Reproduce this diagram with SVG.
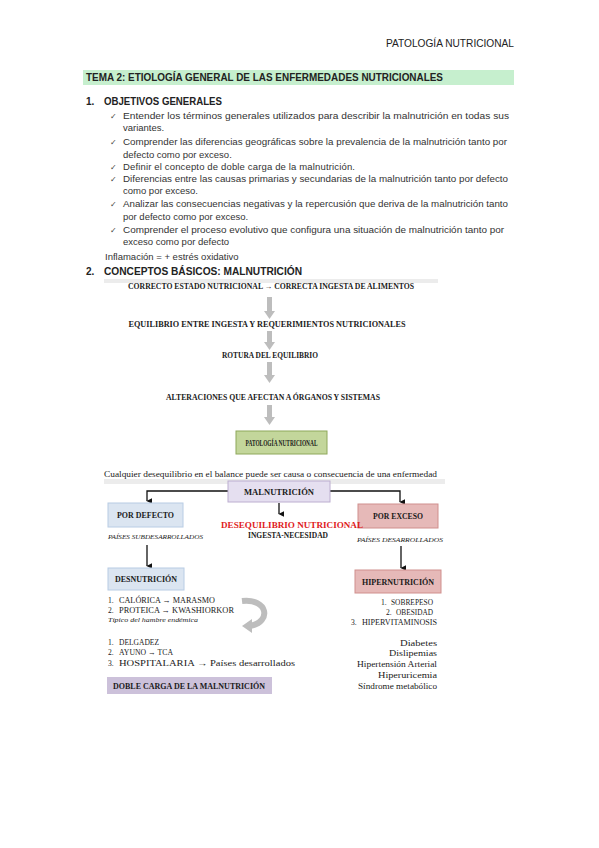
<svg xmlns="http://www.w3.org/2000/svg" width="599" height="848" viewBox="0 0 599 848">
<defs>
<style>
.s{font-family:"Liberation Sans",Arial,sans-serif;fill:#222;}
.b{font-weight:bold;}
.t{font-family:"Liberation Sans",Arial,sans-serif;font-size:9.5px;fill:#333;}
.ck{font-family:"DejaVu Sans",sans-serif;font-size:8px;fill:#444;}
.sf{font-family:"Liberation Serif","Times New Roman",serif;fill:#1a1a1a;}
.ln{fill:none;stroke:#111;stroke-width:1.3;}
.ga{fill:#bdbdbd;}
</style>
<marker id="ah" viewBox="0 0 10 10" refX="5" refY="9" markerWidth="6" markerHeight="6" orient="auto-start-reverse" markerUnits="userSpaceOnUse">
<path d="M0,0 L10,0 L5,10 Z" fill="#111"/>
</marker>
</defs>
<rect width="599" height="848" fill="#fff"/>

<g id="header">
<text class="s" x="514" y="47" font-size="10.5" text-anchor="end" textLength="128" lengthAdjust="spacingAndGlyphs" fill="#333">PATOLOGÍA NUTRICIONAL</text>
</g>

<g id="title">
<rect x="83" y="70" width="431" height="15" fill="#c6efce"/>
<text class="s b" x="86" y="81" font-size="10" textLength="357" lengthAdjust="spacingAndGlyphs">TEMA 2: ETIOLOGÍA GENERAL DE LAS ENFERMEDADES NUTRICIONALES</text>
</g>

<g id="objetivos">
<text class="s b" x="86" y="105" font-size="10">1.</text>
<text class="s b" x="104" y="105" font-size="10" textLength="118" lengthAdjust="spacingAndGlyphs">OBJETIVOS GENERALES</text>
<text class="ck" x="110" y="119">✓</text>
<text class="t" x="123" y="119" textLength="386" lengthAdjust="spacingAndGlyphs">Entender los términos generales utilizados para describir la malnutrición en todas sus</text>
<text class="t" x="123" y="131">variantes.</text>
<text class="ck" x="110" y="145">✓</text>
<text class="t" x="123" y="145" textLength="384" lengthAdjust="spacingAndGlyphs">Comprender las diferencias geográficas sobre la prevalencia de la malnutrición tanto por</text>
<text class="t" x="123" y="158">defecto como por exceso.</text>
<text class="ck" x="110" y="170">✓</text>
<text class="t" x="123" y="170" textLength="232" lengthAdjust="spacing">Definir el concepto de doble carga de la malnutrición.</text>
<text class="ck" x="110" y="182">✓</text>
<text class="t" x="123" y="182" textLength="385" lengthAdjust="spacingAndGlyphs">Diferencias entre las causas primarias y secundarias de la malnutrición tanto por defecto</text>
<text class="t" x="123" y="194">como por exceso.</text>
<text class="ck" x="110" y="207">✓</text>
<text class="t" x="123" y="207" textLength="385" lengthAdjust="spacingAndGlyphs">Analizar las consecuencias negativas y la repercusión que deriva de la malnutrición tanto</text>
<text class="t" x="123" y="220">por defecto como por exceso.</text>
<text class="ck" x="110" y="233">✓</text>
<text class="t" x="123" y="233" textLength="381" lengthAdjust="spacingAndGlyphs">Comprender el proceso evolutivo que configura una situación de malnutrición tanto por</text>
<text class="t" x="123" y="245">exceso como por defecto</text>
<text class="t" x="105" y="260">Inflamación = + estrés oxidativo</text>
<text class="s b" x="86" y="275" font-size="10">2.</text>
<text class="s b" x="104" y="275" font-size="10" textLength="198" lengthAdjust="spacingAndGlyphs">CONCEPTOS BÁSICOS: MALNUTRICIÓN</text>
</g>

<g id="diagram1">
<rect x="104" y="279" width="334" height="200" fill="#fff"/>
<rect x="104" y="279" width="334" height="4" fill="#ececec"/>
<g id="n-correcto"><text class="sf b" x="271" y="289" font-size="8.2" text-anchor="middle" textLength="286" lengthAdjust="spacingAndGlyphs">CORRECTO ESTADO NUTRICIONAL → CORRECTA INGESTA DE ALIMENTOS</text></g>
<g id="n-equilibrio"><text class="sf b" x="267" y="327" font-size="8.2" text-anchor="middle" textLength="277" lengthAdjust="spacingAndGlyphs">EQUILIBRIO ENTRE INGESTA Y REQUERIMIENTOS NUTRICIONALES</text></g>
<g id="n-rotura"><text class="sf b" x="270" y="358" font-size="8.2" text-anchor="middle" textLength="96" lengthAdjust="spacingAndGlyphs">ROTURA DEL EQUILIBRIO</text></g>
<g id="n-alteraciones"><text class="sf b" x="273" y="400" font-size="8.2" text-anchor="middle" textLength="214" lengthAdjust="spacingAndGlyphs">ALTERACIONES QUE AFECTAN A ÓRGANOS Y SISTEMAS</text></g>
<g id="n-patologia">
<rect x="236" y="431" width="91" height="23" fill="#c3d69b" stroke="#8ea85a" stroke-width="1"/>
<text class="sf b" x="281.5" y="445.5" font-size="8" text-anchor="middle" textLength="72" lengthAdjust="spacingAndGlyphs">PATOLOGÍA NUTRICIONAL</text>
</g>
<g id="n-cualquier"><text class="sf" x="104" y="477" font-size="8.4" textLength="333" lengthAdjust="spacingAndGlyphs">Cualquier desequilibrio en el balance puede ser causa o consecuencia de una enfermedad</text></g>
<g id="connectors1">
<polygon class="ga" points="267,297 272,297 272,311 275,311 269.5,319 264,311 267,311"/>
<polygon class="ga" points="267,331 272,331 272,342 275,342 269.5,350 264,342 267,342"/>
<polygon class="ga" points="267,362 272,362 272,375 275,375 269.5,383 264,375 267,375"/>
<polygon class="ga" points="267,405 272,405 272,417 275,417 269.5,425 264,417 267,417"/>
</g>
</g>

<g id="diagram2">
<rect x="104" y="479" width="341" height="218" fill="#fff"/>
<rect x="104" y="479" width="341" height="5" fill="#ececec"/>
<g id="connectors2">
<path class="ln" d="M228,491 H147 V501" marker-end="url(#ah)"/>
<path class="ln" d="M330,491 H400 V502" marker-end="url(#ah)"/>
<path class="ln" d="M279,503 V514" marker-end="url(#ah)"/>
<path class="ln" d="M147,545 V566" marker-end="url(#ah)"/>
<path class="ln" d="M401,546 V568" marker-end="url(#ah)"/>
<path d="M242,601 C268,598 272,622 250,626" fill="none" stroke="#bdbdbd" stroke-width="6"/>
<polygon class="ga" points="252,619 252,633 242,626"/>
</g>
<g id="n-malnutricion">
<rect x="228" y="481" width="102" height="21" fill="#e5dff0" stroke="#bcaed0" stroke-width="1"/>
<text class="sf b" x="279" y="495" font-size="9" text-anchor="middle" textLength="70" lengthAdjust="spacingAndGlyphs">MALNUTRICIÓN</text>
</g>
<g id="n-defecto">
<rect x="108" y="503" width="75" height="24" fill="#dbe5f1" stroke="#b8cce4" stroke-width="1"/>
<text class="sf b" x="145.5" y="518" font-size="8" text-anchor="middle" textLength="57" lengthAdjust="spacingAndGlyphs">POR DEFECTO</text>
</g>
<g id="n-exceso">
<rect x="358" y="504" width="80" height="24" fill="#e6b9b8" stroke="#d08f8d" stroke-width="1"/>
<text class="sf b" x="398" y="519" font-size="8" text-anchor="middle" textLength="50" lengthAdjust="spacingAndGlyphs">POR EXCESO</text>
</g>
<g id="n-desequilibrio">
<text class="sf b" x="292" y="528" font-size="7.5" text-anchor="middle" style="fill:#e0201b" textLength="142" lengthAdjust="spacingAndGlyphs">DESEQUILIBRIO NUTRICIONAL</text>
<text class="sf b" x="288" y="538" font-size="7.5" text-anchor="middle" textLength="80" lengthAdjust="spacingAndGlyphs">INGESTA-NECESIDAD</text>
</g>
<g id="n-subdesarrollados"><text class="sf" x="108" y="539" font-size="7" font-style="italic" textLength="95" lengthAdjust="spacingAndGlyphs">PAÍSES SUBDESARROLLADOS</text></g>
<g id="n-desarrollados"><text class="sf" x="357" y="542" font-size="7" font-style="italic" textLength="86" lengthAdjust="spacingAndGlyphs">PAÍSES DESARROLLADOS</text></g>
<g id="n-desnutricion">
<rect x="108" y="568" width="76" height="22" fill="#dbe5f1" stroke="#b8cce4" stroke-width="1"/>
<text class="sf b" x="146" y="582" font-size="8" text-anchor="middle" textLength="62" lengthAdjust="spacingAndGlyphs">DESNUTRICIÓN</text>
</g>
<g id="n-hipernutricion">
<rect x="355" y="570" width="86" height="23" fill="#e6b9b8" stroke="#d08f8d" stroke-width="1"/>
<text class="sf b" x="398" y="585" font-size="8" text-anchor="middle" textLength="72" lengthAdjust="spacingAndGlyphs">HIPERNUTRICIÓN</text>
</g>
<g id="n-tipos-defecto">
<text class="sf" x="108" y="603" font-size="7.6">1.</text>
<text class="sf" x="119" y="603" font-size="7.6" textLength="96" lengthAdjust="spacingAndGlyphs">CALÓRICA → MARASMO</text>
<text class="sf" x="108" y="613" font-size="7.6">2.</text>
<text class="sf" x="119" y="613" font-size="7.6" textLength="115" lengthAdjust="spacingAndGlyphs">PROTEICA → KWASHIORKOR</text>
<text class="sf" x="108" y="622" font-size="6.2" font-style="italic" textLength="90" lengthAdjust="spacingAndGlyphs">Típico del hambre endémica</text>
</g>
<g id="n-tipos-exceso">
<text class="sf" x="381" y="605" font-size="7.6">1.</text>
<text class="sf" x="391" y="605" font-size="7.6" textLength="42" lengthAdjust="spacingAndGlyphs">SOBREPESO</text>
<text class="sf" x="386" y="615" font-size="7.6">2.</text>
<text class="sf" x="396" y="615" font-size="7.6" textLength="37" lengthAdjust="spacingAndGlyphs">OBESIDAD</text>
<text class="sf" x="351" y="625" font-size="7.6">3.</text>
<text class="sf" x="362" y="625" font-size="7.6" textLength="75" lengthAdjust="spacingAndGlyphs">HIPERVITAMINOSIS</text>
</g>
<g id="n-otros">
<text class="sf" x="108" y="645" font-size="7.6">1.</text>
<text class="sf" x="119" y="645" font-size="7.6" textLength="40" lengthAdjust="spacingAndGlyphs">DELGADEZ</text>
<text class="sf" x="108" y="655" font-size="7.6">2.</text>
<text class="sf" x="119" y="655" font-size="7.6" textLength="54" lengthAdjust="spacingAndGlyphs">AYUNO → TCA</text>
<text class="sf" x="108" y="666" font-size="7.6">3.</text>
<text class="sf" x="119" y="666" font-size="8.4" textLength="176" lengthAdjust="spacingAndGlyphs">HOSPITALARIA → Países desarrollados</text>
</g>
<g id="n-doble">
<rect x="107" y="677" width="165" height="17" fill="#ccc1da"/>
<text class="sf b" x="113" y="689" font-size="8" textLength="152" lengthAdjust="spacingAndGlyphs">DOBLE CARGA DE LA MALNUTRICIÓN</text>
</g>
<g id="n-complicaciones">
<text class="sf" x="437" y="646" font-size="7.8" text-anchor="end" textLength="37" lengthAdjust="spacingAndGlyphs">Diabetes</text>
<text class="sf" x="437" y="656" font-size="7.8" text-anchor="end" textLength="48" lengthAdjust="spacingAndGlyphs">Dislipemias</text>
<text class="sf" x="437" y="667" font-size="7.8" text-anchor="end" textLength="80" lengthAdjust="spacingAndGlyphs">Hipertensión Arterial</text>
<text class="sf" x="437" y="678" font-size="7.8" text-anchor="end" textLength="59" lengthAdjust="spacingAndGlyphs">Hiperuricemia</text>
<text class="sf" x="437" y="689" font-size="7.8" text-anchor="end" textLength="79" lengthAdjust="spacingAndGlyphs">Síndrome metabólico</text>
</g>
</g>
</svg>
